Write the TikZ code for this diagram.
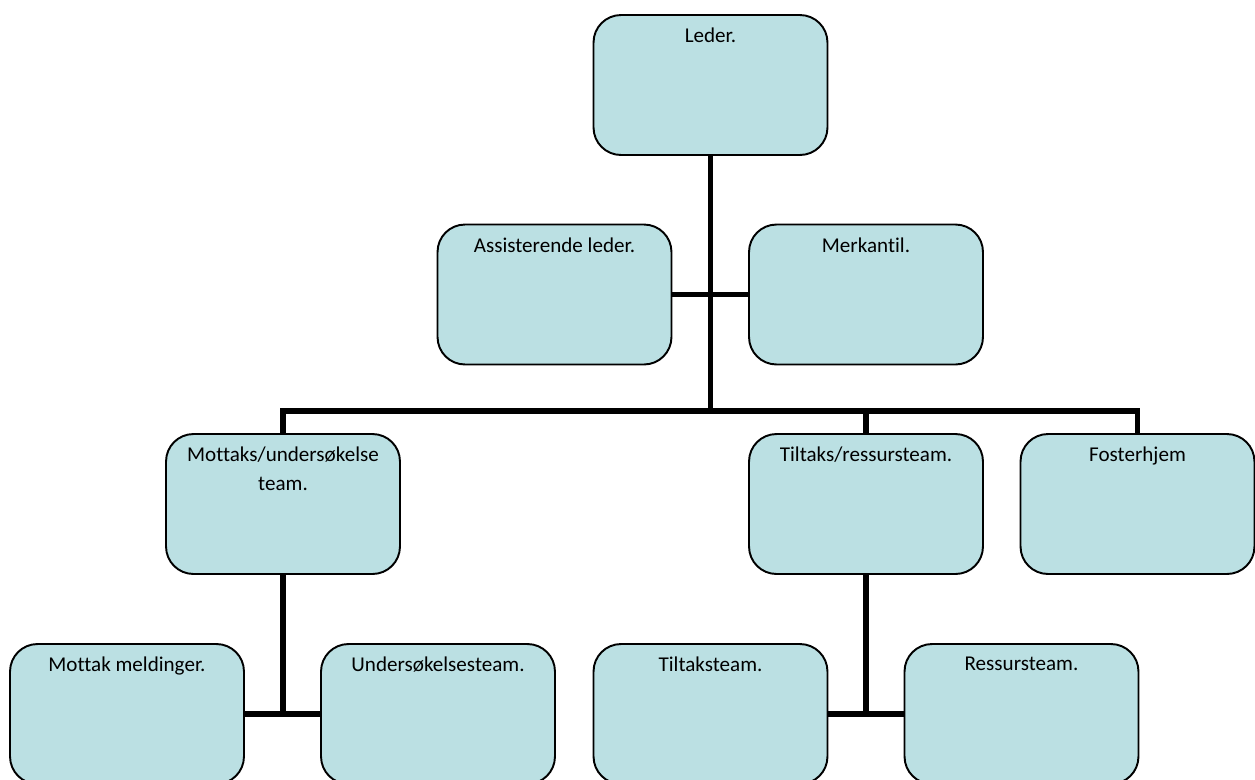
\documentclass[tikz,border=0pt]{standalone}
\usepackage{fontspec}
\setmainfont[Ligatures=NoCommon]{Carlito}
\definecolor{teamfill}{RGB}{187,224,227}

\begin{document}
\begin{tikzpicture}[x=0.02cm, y=-0.02cm,
    unit/.style={draw, line width=1.1pt, fill=teamfill, rounded corners=0.55cm,
        minimum width=4.68cm, minimum height=2.8cm, inner sep=0pt},
    unittext/.style={anchor=north, yshift=-0.27cm, align=center, inner sep=0pt,
        font=\fontsize{12}{16.5}\selectfont},
    link/.style={line width=3.3pt}]
    \useasboundingbox (0, 0) rectangle (1255, 779);
    \clip (0, 0) rectangle (1255, 779);

    \node[unit, label={[unittext]north:Leder.}] (leder) at (710.5, 85) {};
    \node[unit, label={[unittext]north:Assisterende leder.}] (asst) at (554.5, 294.5) {};
    \node[unit, label={[unittext]north:Merkantil.}] (merk) at (866, 294.5) {};
    \node[unit, label={[unittext]north:Mottaks/undersøkelse\\team.}] (mottaks) at (283, 504) {};
    \node[unit, label={[unittext]north:Tiltaks/ressursteam.}] (tiltaks) at (866, 504) {};
    \node[unit, label={[unittext]north:Fosterhjem}] (fost) at (1137.5, 504) {};
    \node[unit, label={[unittext]north:Mottak meldinger.}] (mmeld) at (127, 714) {};
    \node[unit, label={[unittext]north:Undersøkelsesteam.}] (under) at (438, 714) {};
    \node[unit, label={[unittext]north:Tiltaksteam.}] (tiltt) at (710.5, 714) {};
    \node[unit, label={[unittext]north:Ressursteam.}] (ress) at (1021.5, 714) {};

    \coordinate (busjoin) at (710.5, 411);

    \draw[link] (leder) -- (busjoin);
    \draw[link] (asst) -- (merk);
    \draw[link] (mottaks.north) |- (busjoin) -| (fost.north);
    \draw[link] (tiltaks.north) -- (tiltaks.north |- busjoin);
    \draw[link] (mottaks) -- (mottaks |- under);
    \draw[link] (mmeld) -- (under);
    \draw[link] (tiltaks) -- (tiltaks |- ress);
    \draw[link] (tiltt) -- (ress);
\end{tikzpicture}
\end{document}
